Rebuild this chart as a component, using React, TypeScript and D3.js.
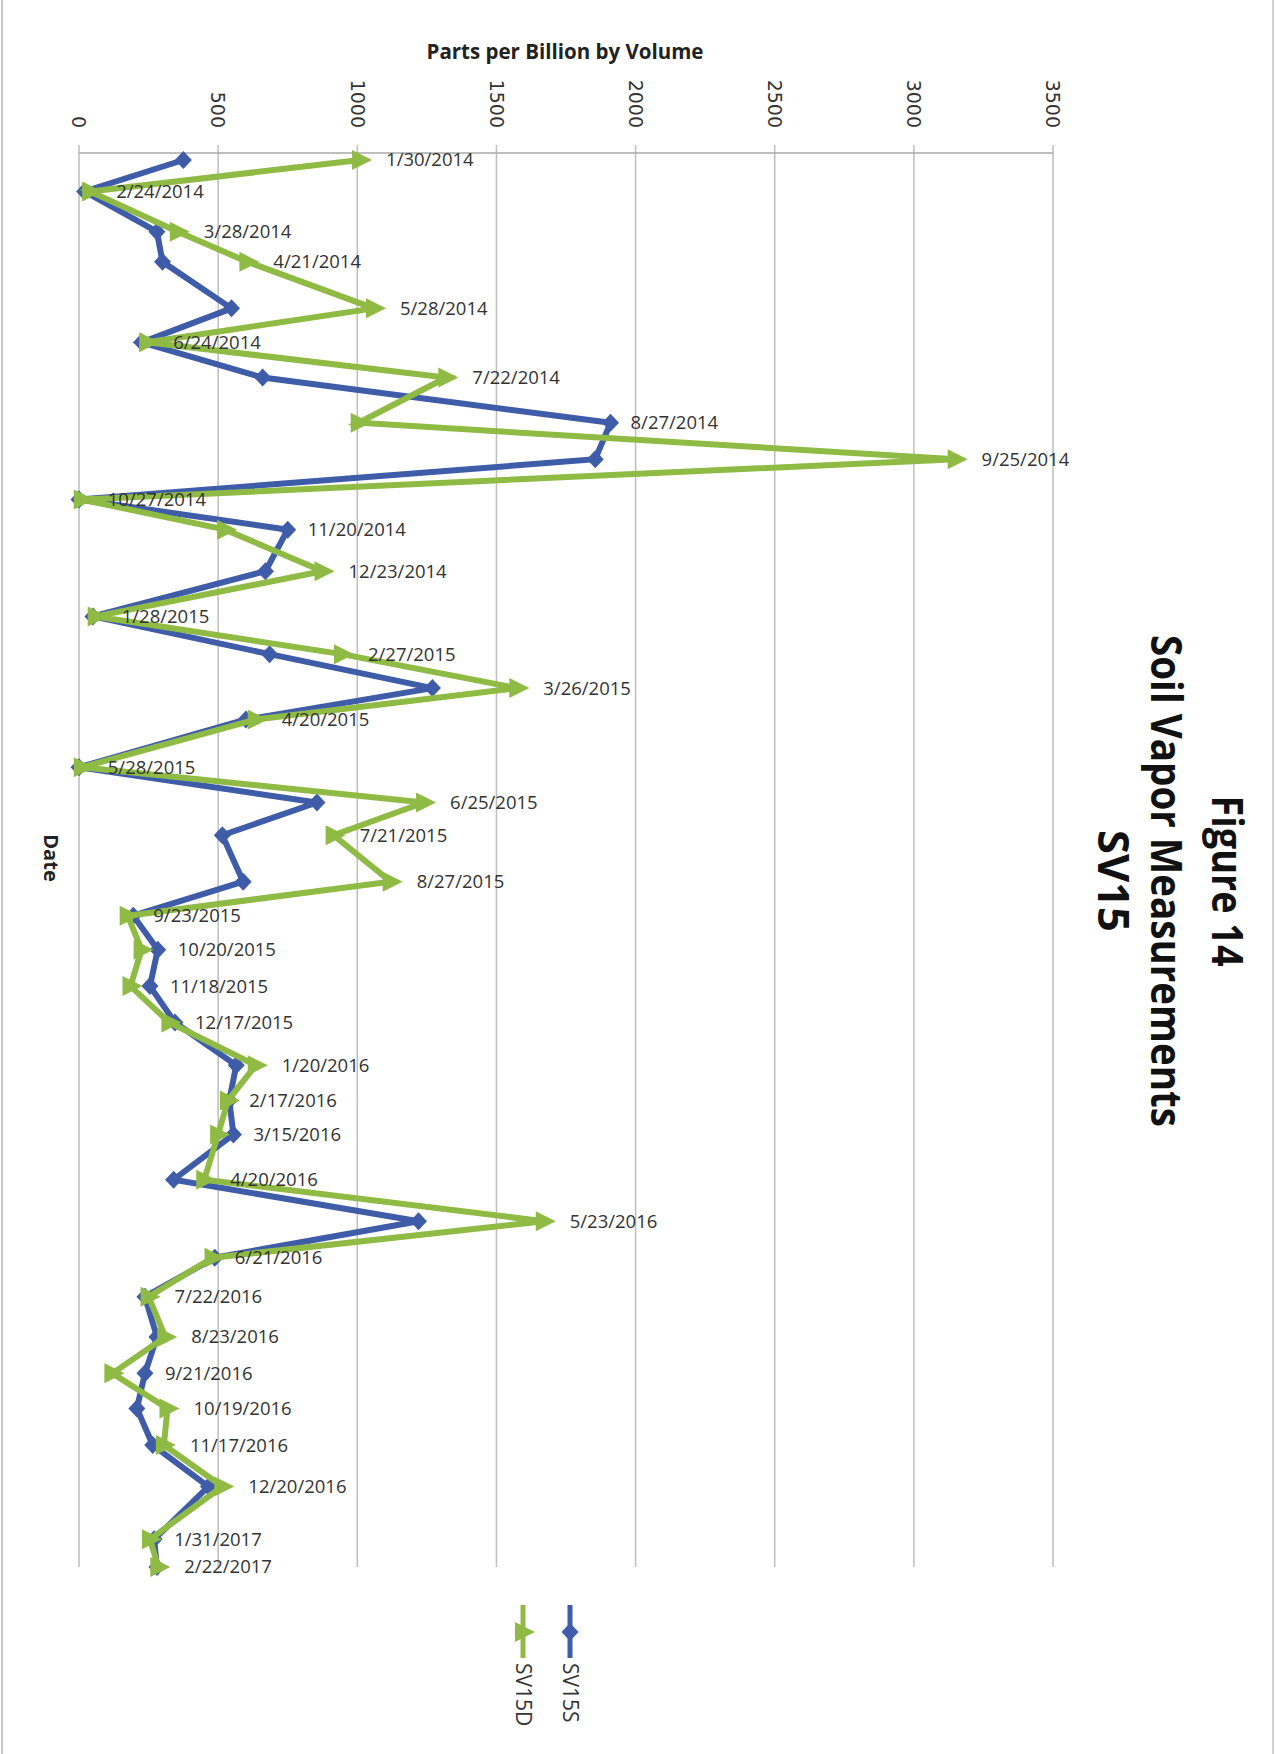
import React from "react";
import * as d3 from "d3";

const dates = [
  "1/30/2014", "2/24/2014", "3/28/2014", "4/21/2014", "5/28/2014", "6/24/2014",
  "7/22/2014", "8/27/2014", "9/25/2014", "10/27/2014", "11/20/2014", "12/23/2014",
  "1/28/2015", "2/27/2015", "3/26/2015", "4/20/2015", "5/28/2015", "6/25/2015",
  "7/21/2015", "8/27/2015", "9/23/2015", "10/20/2015", "11/18/2015", "12/17/2015",
  "1/20/2016", "2/17/2016", "3/15/2016", "4/20/2016", "5/23/2016", "6/21/2016",
  "7/22/2016", "8/23/2016", "9/21/2016", "10/19/2016", "11/17/2016", "12/20/2016",
  "1/31/2017", "2/22/2017",
];

const sv15s = [
  375, 20, 280, 300, 548, 225, 660, 1910, 1855, 0, 750, 670,
  50, 685, 1270, 600, 0, 855, 515, 590, 195, 283, 255, 345,
  565, 540, 555, 340, 1220, 488, 237, 280, 237, 208, 265, 465,
  270, 280,
];

const sv15d = [
  1010, 40, 355, 605, 1060, 245, 1320, 1005, 3150, 10, 525, 875,
  60, 945, 1575, 635, 10, 1240, 915, 1120, 175, 225, 185, 325,
  635, 535, 500, 450, 1670, 480, 250, 310, 120, 318, 305, 515,
  255, 285,
];

const valueTicks = [0, 500, 1000, 1500, 2000, 2500, 3000, 3500];

const titleLines = ["Figure 14", "Soil Vapor Measurements", "SV15"];
const seriesNames = ["SV15S", "SV15D"];

const BLUE = "#3f5ca9";
const GREEN = "#8fba44";
const GRID = "#bdbdbd";
const LABEL = "#333";

const parse = d3.timeParse("%m/%d/%Y");

export default function App() {
  const W = 1275;
  const H = 1754;
  const x = d3.scaleLinear().domain([0, 3500]).range([79, 1053]);
  const t = dates.map((d) => parse(d) as Date);
  const y = d3
    .scaleTime()
    .domain([t[0], t[t.length - 1]])
    .range([160, 1567]);

  const lineS = d3
    .line<number>()
    .x((v) => x(v))
    .y((_, i) => y(t[i]));
  const lineD = d3
    .line<number>()
    .x((v) => x(v))
    .y((_, i) => y(t[i]));

  const diamond = "M0,-9L8.5,0L0,9L-8.5,0Z";
  const triangle = "M12,0L-8,-10L-8,10Z";

  const labelX = (i: number) =>
    sv15d[i] >= sv15s[i] ? x(sv15d[i]) + 26 : x(sv15s[i]) + 20;

  const titleLen = [171, 492, 102];
  const titleBase = [1212, 1151, 1098];

  return (
    <svg
      width={W}
      height={H}
      style={{ position: "absolute", left: 0, top: 0, background: "#fff" }}
    >
      <rect x={0} y={0} width={W} height={H} fill="#fff" />
      <line x1={2} x2={2} y1={0} y2={H} stroke="#c8c8c8" strokeWidth={2} />
      <line x1={1273} x2={1273} y1={0} y2={H} stroke="#d0d0d0" strokeWidth={2} />

      {valueTicks.map((v) => (
        <line
          key={"g" + v}
          x1={x(v)}
          x2={x(v)}
          y1={145}
          y2={1567}
          stroke={GRID}
          strokeWidth={1.5}
        />
      ))}
      <line x1={x(0)} x2={x(3500)} y1={153} y2={153} stroke="#a8a8a8" strokeWidth={1.5} />

      {valueTicks.map((v) => (
        <text
          key={"t" + v}
          transform={`translate(${x(v)},128) rotate(90)`}
          textAnchor="end"
          dy="0.35em"
          fontFamily="DejaVu Sans, sans-serif"
          fontSize={19}
          fill="#333"
        >
          {v}
        </text>
      ))}

      <text
        x={565}
        y={59}
        textAnchor="middle"
        fontFamily="Open Sans, sans-serif"
        fontWeight="bold"
        fontSize={20.5}
        fill="#222"
      >
        Parts per Billion by Volume
      </text>

      <text
        transform="translate(51,858) rotate(90)"
        textAnchor="middle"
        dy="0.35em"
        fontFamily="Open Sans, sans-serif"
        fontWeight="bold"
        fontSize={20}
        fill="#222"
      >
        Date
      </text>

      {titleLines.map((s, i) => (
        <text
          key={"title" + i}
          transform={`translate(${titleBase[i]},881) rotate(90)`}
          textAnchor="middle"
          fontFamily="Open Sans, sans-serif"
          fontWeight="bold"
          fontSize={43}
          textLength={titleLen[i]}
          lengthAdjust="spacingAndGlyphs"
          fill="#111"
        >
          {s}
        </text>
      ))}

      <path d={lineS(sv15s) || ""} fill="none" stroke={BLUE} strokeWidth={6} strokeLinejoin="miter" />
      {sv15s.map((v, i) => (
        <path key={"ms" + i} d={diamond} transform={`translate(${x(v)},${y(t[i])})`} fill={BLUE} />
      ))}
      <path d={lineD(sv15d) || ""} fill="none" stroke={GREEN} strokeWidth={6} strokeLinejoin="miter" />
      {sv15d.map((v, i) => (
        <path key={"md" + i} d={triangle} transform={`translate(${x(v)},${y(t[i])})`} fill={GREEN} />
      ))}

      {dates.map((d, i) => (
        <text
          key={"l" + i}
          x={labelX(i)}
          y={y(t[i])}
          dy="0.35em"
          fontFamily="Open Sans, sans-serif"
          fontSize={18.5}
          fill={LABEL}
        >
          {d}
        </text>
      ))}

      <g>
        <line x1={570} x2={570} y1={1605} y2={1658} stroke={BLUE} strokeWidth={5} />
        <path d={diamond} transform="translate(570,1632)" fill={BLUE} />
        <text
          transform="translate(570,1663) rotate(90)"
          dy="0.35em"
          fontFamily="Open Sans, sans-serif"
          fontSize={21}
          fill="#333"
        >
          {seriesNames[0]}
        </text>
        <line x1={523} x2={523} y1={1605} y2={1658} stroke={GREEN} strokeWidth={5} />
        <path d={triangle} transform="translate(523,1632)" fill={GREEN} />
        <text
          transform="translate(523,1663) rotate(90)"
          dy="0.35em"
          fontFamily="Open Sans, sans-serif"
          fontSize={21}
          fill="#333"
        >
          {seriesNames[1]}
        </text>
      </g>
    </svg>
  );
}
